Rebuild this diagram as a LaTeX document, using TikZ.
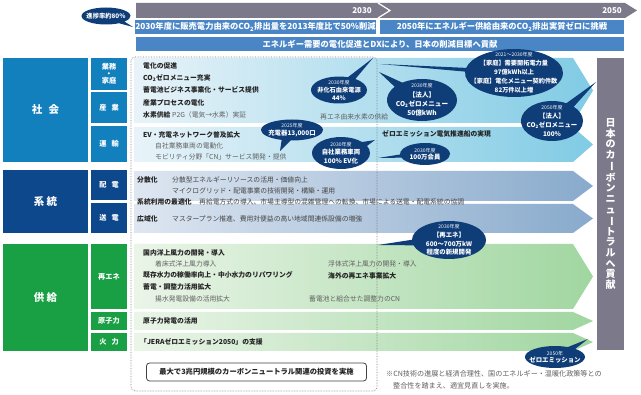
\documentclass[tikz,border=0pt]{standalone}
\usepackage{fontspec}
\usepackage{graphicx}
\setmainfont{Noto Sans CJK JP}
\usetikzlibrary{shapes.callouts,shapes.geometric}
\definecolor{barGray}{RGB}{124,121,138}
\definecolor{hdrBlue}{RGB}{74,134,198}
\definecolor{navy}{RGB}{15,61,120}
\definecolor{shakaiC}{RGB}{19,128,190}
\definecolor{keitoC}{RGB}{14,72,140}
\definecolor{kyokyuC}{RGB}{26,160,68}
\definecolor{txtDark}{RGB}{35,35,35}
\definecolor{txtGray}{RGB}{95,95,95}
\definecolor{shL}{RGB}{232,243,249}
\definecolor{shR}{RGB}{128,203,228}
\definecolor{keL}{RGB}{222,230,241}
\definecolor{keR}{RGB}{136,170,204}
\definecolor{kyL}{RGB}{234,245,232}
\definecolor{kyR}{RGB}{160,214,160}
\newcommand\fs[2]{\fontsize{#1}{#2}\selectfont}
\newcommand\vbarchar{\rotatebox[origin=c]{-90}{ー}}
\newcommand\yrs[1]{{\fs{5}{7}\mdseries #1}}
\begin{document}
\begin{tikzpicture}[x=1pt,y=-1pt,
  cat/.style={fill=#1, text=white, inner sep=0pt, font=\fs{10.5}{12}\bfseries},
  sub/.style={fill=#1, text=white, inner sep=0pt, align=center, font=\fs{7.2}{7}\bfseries},
  hdr/.style={fill=hdrBlue, text=white, inner sep=0pt, font=\fs{8.3}{10}\bfseries},
  yr/.style={text=white, inner sep=0pt, font=\fs{8}{10}\bfseries},
  bl/.style={anchor=west, inner sep=0pt, text=txtDark, font=\fs{6.8}{8}\bfseries},
  nl/.style={anchor=west, inner sep=0pt, text=txtGray, font=\fs{6.8}{8}},
  dl/.style={anchor=west, inner sep=0pt, text=txtDark!85, font=\fs{6.8}{8}},
  bub/.style={ellipse callout, fill=navy, inner sep=0pt, callout pointer arc=17},
  btx/.style={text=white, align=center, inner sep=0pt, font=\fs{6.2}{8.5}\bfseries},
]
\useasboundingbox (0,0) rectangle (641,395);
\fill[white] (0,0) rectangle (641,395);

% timeline bar
\fill[barGray] (378,3) -- (625,3) -- (637,10.5) -- (625,18) -- (378,18) -- cycle;
\fill[barGray] (136,3) -- (378,3) -- (390,10.5) -- (378,18) -- (136,18) -- cycle;
\draw[white, line width=1.2pt] (378,3) -- (390,10.5) -- (378,18);
\node[yr, anchor=east] (y2030) at (372,10.5) {2030};
\node[yr, anchor=east] (y2050) at (622,10.5) {2050};

% headers
\node[hdr, minimum width=239, minimum height=14] (h1) at (255.5,27) {2030年度に販売電力由来のCO\textsubscript{2}排出量を2013年度比で50\%削減};
\node[hdr, minimum width=244, minimum height=14] (h2) at (502,27) {2050年にエネルギー供給由来のCO\textsubscript{2}排出実質ゼロに挑戦};
\node[hdr, minimum width=488, minimum height=14] (h3) at (380,44) {エネルギー需要の電化促進とDXにより、日本の削減目標へ貢献};

% progress bubble
\node[bub, minimum width=49, minimum height=17, callout absolute pointer={(133,27)}] (bp) at (106,16) {};
\node[btx, font=\fs{6.3}{7}\bfseries] (bpt) at (bp) {進捗率約80\%};

% category boxes
\node[cat=shakaiC, minimum width=85, minimum height=104] (shakai) at (45.5,110) {社\hspace{0.6em}会};
\node[sub=shakaiC, minimum width=36, minimum height=32] (gyomu) at (109,74) {業務\\・\\家庭};
\node[sub=shakaiC, minimum width=36, minimum height=31] (sangyo) at (109,107.5) {産\hspace{0.7em}業};
\node[sub=shakaiC, minimum width=36, minimum height=36] (unyu) at (109,144) {運\hspace{0.7em}輸};

\node[cat=keitoC, minimum width=85, minimum height=63] (keito) at (45.5,201.5) {系\hspace{0.2em}統};
\node[sub=keitoC, minimum width=36, minimum height=30] (haiden) at (109,185) {配\hspace{0.7em}電};
\node[sub=keitoC, minimum width=36, minimum height=30] (soden) at (109,218) {送\hspace{0.7em}電};

\node[cat=kyokyuC, minimum width=85, minimum height=107] (kyokyu) at (45.5,297.5) {供\hspace{0.2em}給};
\node[sub=kyokyuC, minimum width=36, minimum height=65] (saiene) at (109,276.5) {再エネ};
\node[sub=kyokyuC, minimum width=36, minimum height=18] (genshi) at (109,321) {原子力};
\node[sub=kyokyuC, minimum width=36, minimum height=18] (karyoku) at (109,342) {火\hspace{0.7em}力};

% content arrows
\shade[left color=shL, right color=shR] (134,58) -- (573,58) -- (593,90.5) -- (573,123) -- (134,123) -- cycle;
\shade[left color=shL, right color=shR] (134,127) -- (573,127) -- (593,144.5) -- (573,162) -- (134,162) -- cycle;
\shade[left color=keL, right color=keR] (134,171) -- (573,171) -- (593,186) -- (573,201) -- (134,201) -- cycle;
\shade[left color=keL, right color=keR] (134,204) -- (573,204) -- (593,218.5) -- (573,233) -- (134,233) -- cycle;
\shade[left color=kyL, right color=kyR] (134,244) -- (573,244) -- (593,276.5) -- (573,309) -- (134,309) -- cycle;
\shade[left color=kyL, right color=kyR] (134,312) -- (573,312) -- (593,321) -- (573,330) -- (134,330) -- cycle;
\shade[left color=kyL, right color=kyR] (134,333) -- (573,333) -- (593,342) -- (573,351) -- (134,351) -- cycle;

% dotted 2030 frame
\draw[densely dotted, gray, line width=0.6pt, rounded corners=4pt] (131,57) rectangle (377,391);

% right vertical box
\node[fill=barGray, minimum width=27, minimum height=292, inner sep=0pt, text=white, align=center, font=\fs{10}{10.6}\bfseries] (cn) at (610.5,204) {日\\本\\の\\カ\\\vbarchar\\ボ\\ン\\ニ\\ュ\\\vbarchar\\ト\\ラ\\ル\\へ\\貢\\献};

% society texts
\node[bl] (s1) at (143,66) {電化の促進};
\node[bl] (s2) at (143,78) {CO\textsubscript{2}ゼロメニュー充実};
\node[bl] (s3) at (143,90) {蓄電池ビジネス事業化・サービス提供};
\node[bl] (s4) at (143,103) {産業プロセスの電化};
\node[bl] (s5) at (143,115) {水素供給};
\node[nl] (s6) at (172,115) {P2G（電気→水素）実証};
\node[nl] (s7) at (320,117) {再エネ由来水素の供給};
\node[bl] (s8) at (143,135) {EV・充電ネットワーク普及拡大};
\node[nl] (s9) at (155,146) {自社業務車両の電動化};
\node[nl] (s10) at (155,157) {モビリティ分野「CN」サービス開発・提供};
\node[bl] (s11) at (382,134) {ゼロエミッション電気推進船の実現};

% grid texts
\node[bl] (k1) at (137,180) {分散化};
\node[dl] (k2) at (172,180) {分散型エネルギーリソースの活用・価値向上};
\node[dl] (k3) at (172,191) {マイクログリッド・配電事業の技術開発・構築・運用};
\node[bl] (k4) at (137,202) {系統利用の最適化};
\node[dl] (k5) at (199,202) {再給電方式の導入、市場主導型の混雑管理への転換、市場による送電・配電系統の協調};
\node[bl] (k6) at (137,219) {広域化};
\node[dl] (k7) at (172,219) {マスタープラン推進、費用対便益の高い地域間連係設備の増強};

% supply texts
\node[bl] (p1) at (143,253) {国内洋上風力の開発・導入};
\node[nl] (p2) at (155,264) {着床式洋上風力導入};
\node[nl] (p3) at (328,264) {浮体式洋上風力の開発・導入};
\node[bl] (p4) at (143,275) {既存水力の稼働率向上・中小水力のリパワリング};
\node[bl] (p5) at (328,276) {海外の再エネ事業拡大};
\node[bl] (p6) at (143,287) {蓄電・調整力活用拡大};
\node[nl] (p7) at (155,299) {揚水発電設備の活用拡大};
\node[nl] (p8) at (309,299) {蓄電池と組合せた調整力のCN};
\node[bl] (p9) at (143,321) {原子力発電の活用};
\node[bl] (p10) at (140,342) {「JERAゼロエミッション2050」の支援};

% bubbles
\node[bub, minimum width=56, minimum height=27, callout absolute pointer={(373,58)}] (b1) at (339,90) {};
\node[btx, font=\fs{6.2}{8}\bfseries] (b1t) at (b1) {\yrs{2030年度}\\非化石由来電源\\44\%};

\node[bub, minimum width=70, minimum height=42, callout absolute pointer={(379,72)}] (b2) at (422,100) {};
\node[btx, font=\fs{6.6}{9.3}\bfseries] (b2t) at (b2) {\yrs{2030年度}\\【法人】\\CO\textsubscript{2}ゼロメニュー\\50億kWh};

\node[bub, minimum width=98, minimum height=48, callout pointer arc=9, callout absolute pointer={(380,64)}] (b3) at (514,73) {};
\node[btx, font=\fs{6.2}{9}\bfseries] (b3t) at (b3) {\yrs{2021～2030年度}\\【家庭】需要開拓電力量\\97億kWh以上\\【家庭】電化メニュー契約件数\\82万件以上増};

\node[bub, minimum width=62, minimum height=40, callout absolute pointer={(596,82)}] (b4) at (552,121) {};
\node[btx, font=\fs{6.4}{8.8}\bfseries] (b4t) at (b4) {\yrs{2050年度}\\【法人】\\CO\textsubscript{2}ゼロメニュー\\100\%};

\node[bub, minimum width=62, minimum height=21, callout absolute pointer={(280,151)}] (b5) at (292,130) {};
\node[btx, font=\fs{6.4}{7.5}\bfseries] (b5t) at (b5) {\yrs{2025年度}\\充電器13,000口};

\node[bub, minimum width=58, minimum height=32, callout absolute pointer={(375,140)}] (b6) at (341,153) {};
\node[btx, font=\fs{6.4}{8.5}\bfseries] (b6t) at (b6) {\yrs{2030年度}\\自社業務車両\\100\% EV化};

\node[bub, minimum width=50, minimum height=22, callout absolute pointer={(378,158)}] (b7) at (425,154) {};
\node[btx, font=\fs{6.4}{7.5}\bfseries] (b7t) at (b7) {\yrs{2030年度}\\100万会員};

\node[bub, minimum width=74, minimum height=38, callout absolute pointer={(378,245)}] (b8) at (449,240) {};
\node[btx, font=\fs{6.4}{8.8}\bfseries] (b8t) at (b8) {\yrs{2030年度}\\【再エネ】\\600～700万kW\\程度の新規開発};

\node[bub, minimum width=60, minimum height=22, callout absolute pointer={(588,339)}] (b9) at (555,357) {};
\node[btx, font=\fs{6.4}{7.5}\bfseries] (b9t) at (b9) {\yrs{2050年}\\ゼロエミッション};

% investment box and note
\node[draw=black!75, line width=0.8pt, rounded corners=3pt, fill=white, minimum width=220, minimum height=18, inner sep=0pt, text=txtDark, font=\fs{7.3}{8}\bfseries] (inv) at (256.5,372) {最大で3兆円規模のカーボンニュートラル関連の投資を実施};
\node[anchor=west, inner sep=0pt, text=txtGray, font=\fs{7.1}{8}] (note1) at (386,374) {※CN技術の進展と経済合理性、国のエネルギー・温暖化政策等との};
\node[anchor=west, inner sep=0pt, text=txtGray, font=\fs{7.1}{8}] (note2) at (393,386) {整合性を踏まえ、適宜見直しを実施。};
\end{tikzpicture}
\end{document}
